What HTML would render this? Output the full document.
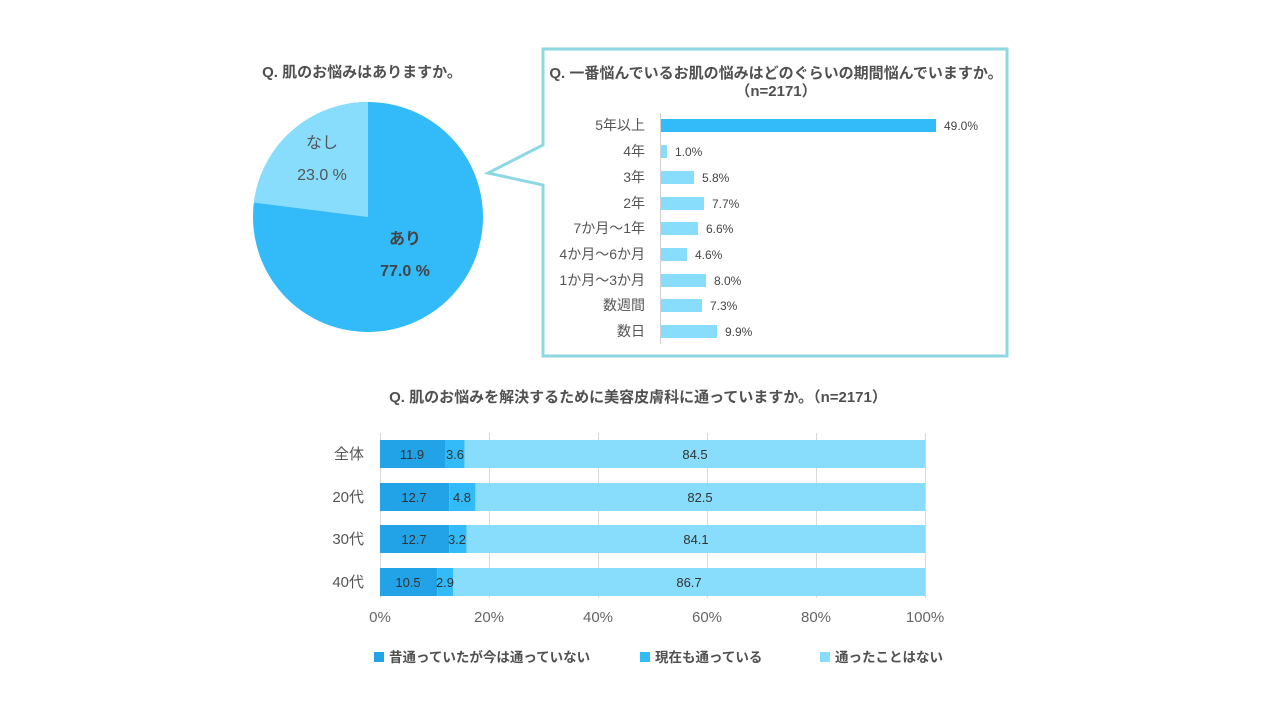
<!DOCTYPE html>
<html><head><meta charset="utf-8"><style>
body{margin:0;background:#fff;}
svg{display:block;font-family:"Liberation Sans","Noto Sans CJK JP",sans-serif;}
</style></head><body>
<svg width="1280" height="720" viewBox="0 0 1280 720">
<rect width="1280" height="720" fill="#fff"/>
<!-- pie -->
<text x="362" y="77" font-size="15" font-weight="bold" fill="#505050" text-anchor="middle">Q. 肌のお悩みはありますか。</text>
<circle cx="368" cy="217" r="115" fill="#33bbf9"/>
<path d="M368,217 L368,102 A115,115 0 0,0 253.9,202.6 Z" fill="#88dcfc"/>
<text x="322" y="148" font-size="16" fill="#555" text-anchor="middle">なし</text>
<text x="322" y="180" font-size="16" fill="#555" text-anchor="middle">23.0 %</text>
<text x="405" y="244" font-size="16" font-weight="bold" fill="#444" text-anchor="middle">あり</text>
<text x="405" y="276" font-size="16" font-weight="bold" fill="#444" text-anchor="middle">77.0 %</text>
<!-- callout -->
<path d="M543,49 L1007,49 L1007,356 L543,356 L543,185 L488,173 L543,145 Z" fill="#fff" stroke="#8ed8e4" stroke-width="3"/>
<text x="776" y="78" font-size="15" font-weight="bold" fill="#505050" text-anchor="middle">Q. 一番悩んでいるお肌の悩みはどのぐらいの期間悩んでいますか。</text>
<text x="776" y="96" font-size="15" font-weight="bold" fill="#505050" text-anchor="middle">（n=2171）</text>
<line x1="660.5" y1="113" x2="660.5" y2="344" stroke="#d0d0d0"/>
<g font-size="14" fill="#555" text-anchor="end">
<text x="645" y="130">5年以上</text><text x="645" y="156">4年</text><text x="645" y="182">3年</text><text x="645" y="208">2年</text><text x="645" y="233">7か月～1年</text><text x="645" y="259">4か月～6か月</text><text x="645" y="285">1か月～3か月</text><text x="645" y="310">数週間</text><text x="645" y="336">数日</text>
</g>
<g fill="#88dcfc">
<rect x="661" y="119" width="275" height="13" fill="#33bbf9"/>
<rect x="661" y="145" width="6" height="13"/>
<rect x="661" y="171" width="33" height="13"/>
<rect x="661" y="197" width="43" height="13"/>
<rect x="661" y="222" width="37" height="13"/>
<rect x="661" y="248" width="26" height="13"/>
<rect x="661" y="274" width="45" height="13"/>
<rect x="661" y="299" width="41" height="13"/>
<rect x="661" y="325" width="56" height="13"/>
</g>
<g font-size="12" fill="#444">
<text x="944" y="130">49.0%</text><text x="675" y="156">1.0%</text><text x="702" y="182">5.8%</text><text x="712" y="208">7.7%</text><text x="706" y="233">6.6%</text><text x="695" y="259">4.6%</text><text x="714" y="285">8.0%</text><text x="710" y="310">7.3%</text><text x="725" y="336">9.9%</text>
</g>
<!-- bottom -->
<text x="638" y="402" font-size="15" font-weight="bold" fill="#505050" text-anchor="middle">Q. 肌のお悩みを解決するために美容皮膚科に通っていますか。（n=2171）</text>
<g stroke="#d9d9d9">
<line x1="380.5" y1="433" x2="380.5" y2="598"/><line x1="489.5" y1="433" x2="489.5" y2="598"/><line x1="598.5" y1="433" x2="598.5" y2="598"/><line x1="707.5" y1="433" x2="707.5" y2="598"/><line x1="816.5" y1="433" x2="816.5" y2="598"/><line x1="925.5" y1="433" x2="925.5" y2="598"/>
</g>
<g>
<rect x="380" y="440" width="65" height="28" fill="#22a3e8"/><rect x="445" y="440" width="19.6" height="28" fill="#33bbf9"/><rect x="464.6" y="440" width="460.4" height="28" fill="#88dcfc"/>
<rect x="380" y="483" width="69.2" height="28" fill="#22a3e8"/><rect x="449.2" y="483" width="26.2" height="28" fill="#33bbf9"/><rect x="475.4" y="483" width="449.6" height="28" fill="#88dcfc"/>
<rect x="380" y="525" width="69.2" height="28" fill="#22a3e8"/><rect x="449.2" y="525" width="17.4" height="28" fill="#33bbf9"/><rect x="466.6" y="525" width="458.4" height="28" fill="#88dcfc"/>
<rect x="380" y="568" width="57.2" height="28" fill="#22a3e8"/><rect x="437.2" y="568" width="15.8" height="28" fill="#33bbf9"/><rect x="453" y="568" width="472" height="28" fill="#88dcfc"/>
</g>
<g font-size="13" fill="#333" text-anchor="middle">
<text x="412" y="459">11.9</text><text x="455" y="459">3.6</text><text x="695" y="459">84.5</text>
<text x="414" y="502">12.7</text><text x="462" y="502">4.8</text><text x="700" y="502">82.5</text>
<text x="414" y="544">12.7</text><text x="457" y="544">3.2</text><text x="696" y="544">84.1</text>
<text x="408" y="587">10.5</text><text x="445" y="587">2.9</text><text x="689" y="587">86.7</text>
</g>
<g font-size="15" fill="#555" text-anchor="end">
<text x="364" y="459">全体</text><text x="364" y="502">20代</text><text x="364" y="544">30代</text><text x="364" y="587">40代</text>
</g>
<g font-size="15" fill="#666" text-anchor="middle">
<text x="380" y="622">0%</text><text x="489" y="622">20%</text><text x="598" y="622">40%</text><text x="707" y="622">60%</text><text x="816" y="622">80%</text><text x="925" y="622">100%</text>
</g>
<g font-size="13.5" font-weight="bold" fill="#505050">
<rect x="374" y="652" width="10" height="10" fill="#22a3e8"/><text x="389" y="662">昔通っていたが今は通っていない</text>
<rect x="640" y="652" width="10" height="10" fill="#33bbf9"/><text x="655" y="662">現在も通っている</text>
<rect x="820" y="652" width="10" height="10" fill="#88dcfc"/><text x="835" y="662">通ったことはない</text>
</g>
</svg>
</body></html>
